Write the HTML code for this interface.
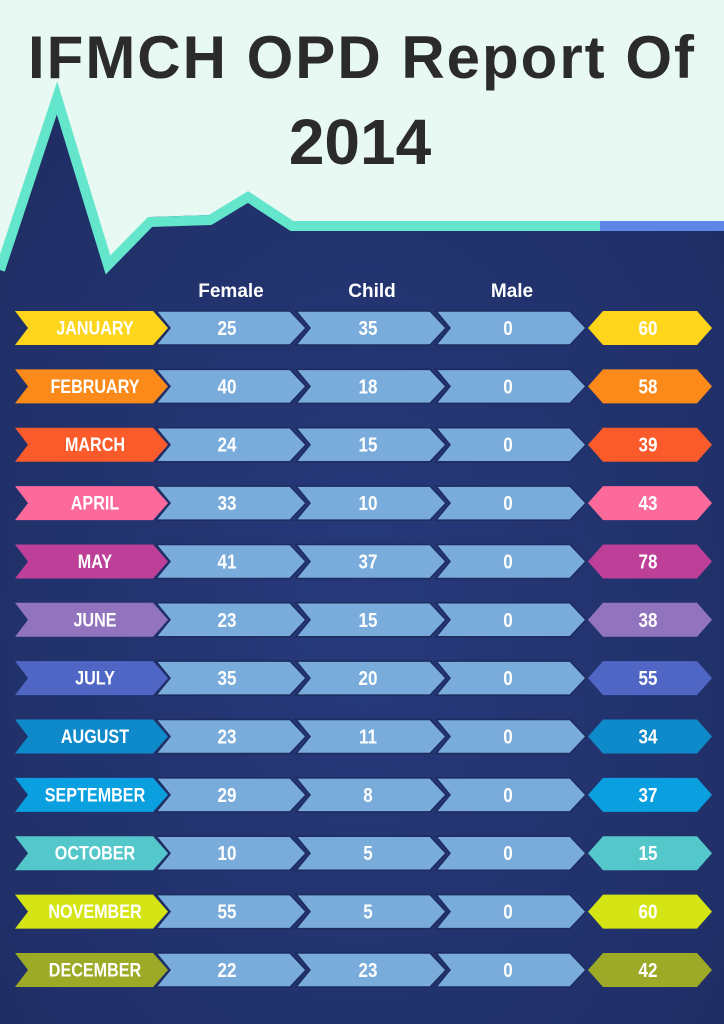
<!DOCTYPE html>
<html><head><meta charset="utf-8"><style>
html,body{margin:0;padding:0;width:724px;height:1024px;overflow:hidden;background:#22316a}
svg{display:block}
text{font-family:"Liberation Sans",sans-serif;font-weight:bold}
</style></head><body>
<svg id="chart" width="724" height="1024" viewBox="0 0 724 1024" xmlns="http://www.w3.org/2000/svg">
<defs>
<radialGradient id="bg" cx="0.5" cy="0.6" r="0.7"><stop offset="0" stop-color="#26397a"/><stop offset="1" stop-color="#1f2d63"/></radialGradient>
</defs>
<rect width="724" height="1024" fill="url(#bg)"/>
<path d="M0,0 H724 V225 H292 L248,192 L210,215 L150,217 L108,268 L57,93 L0,265 Z" fill="#e8f8f3"/>
<polyline points="0,270 57,98 108,265 150,222 210,220 248,197 292,226 600,226" fill="none" stroke="#63e6cc" stroke-width="10"/>
<line x1="600" y1="226" x2="724" y2="226" stroke="#5f86e6" stroke-width="10"/>
<text x="362" y="78" text-anchor="middle" font-size="60" fill="#2b2b2b" letter-spacing="2">IFMCH OPD Report Of</text>
<text x="360" y="164" text-anchor="middle" font-size="64" fill="#2b2b2b">2014</text>
<g id="rows"></g>
</svg>
<script>
const months=["JANUARY","FEBRUARY","MARCH","APRIL","MAY","JUNE","JULY","AUGUST","SEPTEMBER","OCTOBER","NOVEMBER","DECEMBER"];
const female=[25,40,24,33,41,23,35,23,29,10,55,22];
const child=[35,18,15,10,37,15,20,11,8,5,5,23];
const male=[0,0,0,0,0,0,0,0,0,0,0,0];
const totals=[60,58,39,43,78,38,55,34,37,15,60,42];
const columns=["Female","Child","Male"];
const colors=["#fdd51b","#fb8a1a","#fb5a2a","#fc6a9c","#bd3f98","#9174bd","#4f66c4","#0e8acb","#0aa0df","#54c7cb","#d5e415","#9caa28"];
const NS="http://www.w3.org/2000/svg";
const g=document.getElementById("rows");
function rowY(i){return 311+i*58.36;}
const H=34;
function mk(tag,attrs){const e=document.createElementNS(NS,tag);for(const k in attrs)e.setAttribute(k,attrs[k]);g.appendChild(e);return e;}
function txt(x,y,s,size){const t=mk("text",{x:x,y:y,"text-anchor":"middle","font-size":size,fill:"#fff"});t.textContent=s;return t;}
function cond(t,x,f){t.setAttribute("transform",`translate(${x},0) scale(${f},1) translate(${-x},0)`);}
const colX=[231,372,512];
columns.forEach((c,j)=>{
 const t=txt(colX[j],297,c,19);
 
 
});
months.forEach((m,i)=>{
 const y=rowY(i),mid=y+H/2,b=y+H;
 const lab=mk("polygon",{points:`15,${y} 153,${y} 168,${mid} 153,${b} 15,${b} 28,${mid}`,fill:colors[i]});
 
 
 const lt=txt(95,mid+6.5,m,19);
 cond(lt,95,0.85);
 
 
 const vals=[female[i],child[i],male[i]];
 const starts=[156,296,436];
 vals.forEach((v,j)=>{
  const x0=starts[j],x1=x0+134;
  const p=mk("polygon",{points:`${x0},${y} ${x1},${y} ${x1+16},${mid} ${x1},${b} ${x0},${b} ${x0+14},${mid}`,fill:"#79acdb",stroke:"#1d2b5e","stroke-width":"1.5"});
  
  
  const t=txt(colX[j]-4,mid+7,String(v),20);
  cond(t,colX[j]-4,0.85);
  
  
 });
 const hx=mk("polygon",{points:`588,${mid} 603,${y} 697,${y} 712,${mid} 697,${b} 603,${b}`,fill:colors[i]});
 
 
 const tt=txt(648,mid+7,String(totals[i]),20);
 cond(tt,648,0.85);
 
 
});
</script>
</body></html>
